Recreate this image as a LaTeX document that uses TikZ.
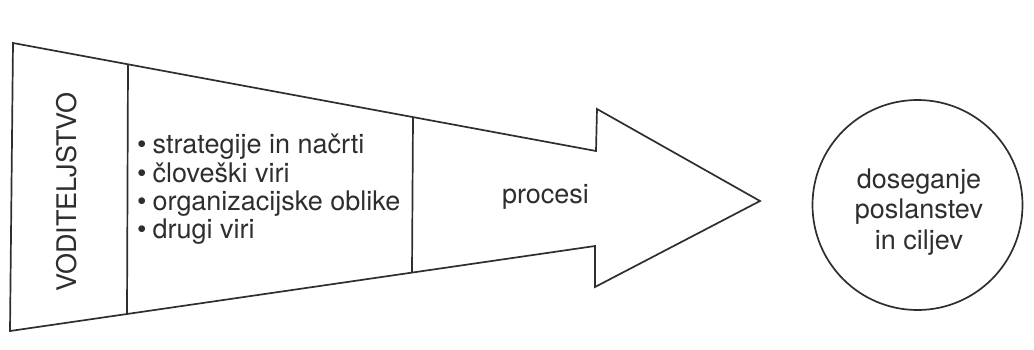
\documentclass[tikz,border=0pt]{standalone}
\usepackage{fontspec}
\setmainfont{TeX Gyre Heros}
\definecolor{ink}{HTML}{2E2E2E}
\begin{document}
\begin{tikzpicture}[x=1pt,y=-1pt,
  outline/.style={draw=ink,line width=1.7pt,line join=miter},
  label/.style={text=ink,inner sep=0pt,font=\fontsize{27}{30.5}\selectfont},
  listitem/.style={label,anchor=base west}]
\useasboundingbox (0,0) rectangle (1034,349);

% corners of the big arrow
\coordinate (tl) at (13,43);
\coordinate (hti) at (596,151);
\coordinate (hto) at (597,109);
\coordinate (tip) at (760,201);
\coordinate (hbo) at (595,287);
\coordinate (hbi) at (595,246);
\coordinate (bl) at (10,331);

% ends of the two inner dividers
\coordinate (d1t) at (128,65);
\coordinate (d1b) at (127,314);
\coordinate (d2t) at (413,118);
\coordinate (d2b) at (412,272);

\draw[outline] (tl) -- (hti) -- (hto) -- (tip) -- (hbo) -- (hbi) -- (bl) -- cycle;
\draw[outline] (d1t) -- (d1b);
\draw[outline] (d2t) -- (d2b);

% text inside the arrow
\newcommand{\itemdot}{\textbullet\hspace{6pt}}
\node[label,rotate=90] (lead) at (67,192) {VODITELJSTVO};
\node[listitem] (l1) at (137,153) {\itemdot strategije in načrti};
\node[listitem] (l2) at (137,182) {\itemdot človeški viri};
\node[listitem] (l3) at (137,210) {\itemdot organizacijske oblike};
\node[listitem] (l4) at (137,238) {\itemdot drugi viri};
\node[label,anchor=base] (proc) at (545.5,203) {procesi};

% goal circle
\node[outline,circle,minimum size=210pt,inner sep=0pt] (goal) at (917.5,205) {};
\node[label,align=center] (goaltext) at (919,212) {doseganje\\poslanstev\\in ciljev};
\end{tikzpicture}
\end{document}
